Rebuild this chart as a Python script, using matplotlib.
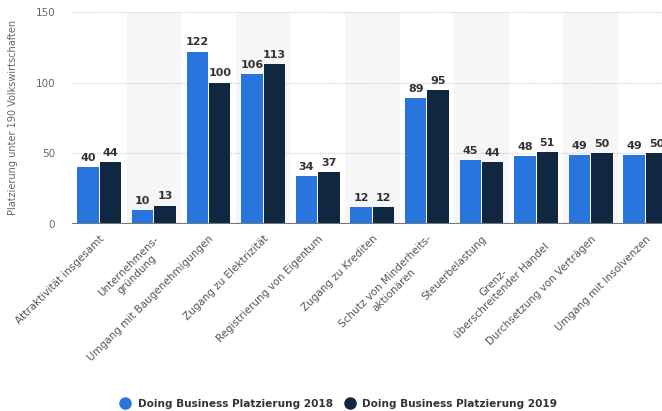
import numpy as np
import matplotlib.pyplot as plt
from matplotlib.lines import Line2D

# Data
categories = [
    'Attraktivität insgesamt',
    'Unternehmens-\ngründung',
    'Umgang mit Baugenehmigungen',
    'Zugang zu Elektrizität',
    'Registrierung von Eigentum',
    'Zugang zu Krediten',
    'Schutz von Minderheits-\naktionären',
    'Steuerbelastung',
    'Grenz-\nüberschreitender Handel',
    'Durchsetzung von Verträgen',
    'Umgang mit Insolvenzen',
]
rank_2018 = [40, 10, 122, 106, 34, 12, 89, 45, 48, 49, 49]
rank_2019 = [44, 13, 100, 113, 37, 12, 95, 44, 51, 50, 50]
label_2018 = 'Doing Business Platzierung 2018'
label_2019 = 'Doing Business Platzierung 2019'

blue = '#2876dd'
navy = '#0f2741'

fig = plt.figure(figsize=(6.62, 4.11), dpi=100)
# plot area runs past the right edge, like the cropped original
ax = fig.add_axes([72 / 662, 187 / 411, 600.6 / 662, 212 / 411])

x = np.arange(len(categories))
w = 0.39
gap = 0.02

# alternating background bands
for i in x:
    if i % 2 == 1:
        ax.axvspan(i - 0.5, i + 0.5, color='#f6f6f6', zorder=0, lw=0)

b1 = ax.bar(x - w / 2 - gap / 2, rank_2018, w, color=blue, zorder=3)
b2 = ax.bar(x + w / 2 + gap / 2, rank_2019, w, color=navy, zorder=3)

for bars in (b1, b2):
    ax.bar_label(bars, padding=3, fontsize=8, fontweight='bold', color='#333333')

ax.set_xlim(-0.5, len(categories) - 0.5)
ax.set_ylim(0, 150)
ax.set_yticks([0, 50, 100, 150])
for v in [50, 100, 150]:
    ax.axhline(v, color='#c8c8c8', lw=0.8, ls=(0, (1, 1.5)), zorder=1)
ax.axhline(0, color='#777777', lw=1.5, zorder=4)

for s in ax.spines.values():
    s.set_visible(False)

ax.tick_params(axis='y', length=0, pad=12, labelsize=7.5, labelcolor='#666666')
ax.tick_params(axis='x', length=0, pad=7)
ax.set_xticks(x)
ax.set_xticklabels(categories, rotation=45, ha='right', rotation_mode='anchor',
                   multialignment='center', fontsize=7.5, color='#555555')

fig.text(13 / 662, 1 - 117 / 411, 'Platzierung unter 190 Volkswirtschaften',
         rotation=90, ha='center', va='center', fontsize=7, color='#666666')

handles = [
    Line2D([], [], marker='o', ls='', color=blue, markersize=8),
    Line2D([], [], marker='o', ls='', color=navy, markersize=8),
]
leg = fig.legend(handles, [label_2018, label_2019], loc='center',
                 bbox_to_anchor=(338 / 662, 7 / 411), ncol=2, frameon=False,
                 handletextpad=0.6, columnspacing=1.0, handlelength=1.2,
                 prop={'weight': 'bold', 'size': 7.6})
for t in leg.get_texts():
    t.set_color('#333333')

fig.savefig('out.png', dpi=100)
